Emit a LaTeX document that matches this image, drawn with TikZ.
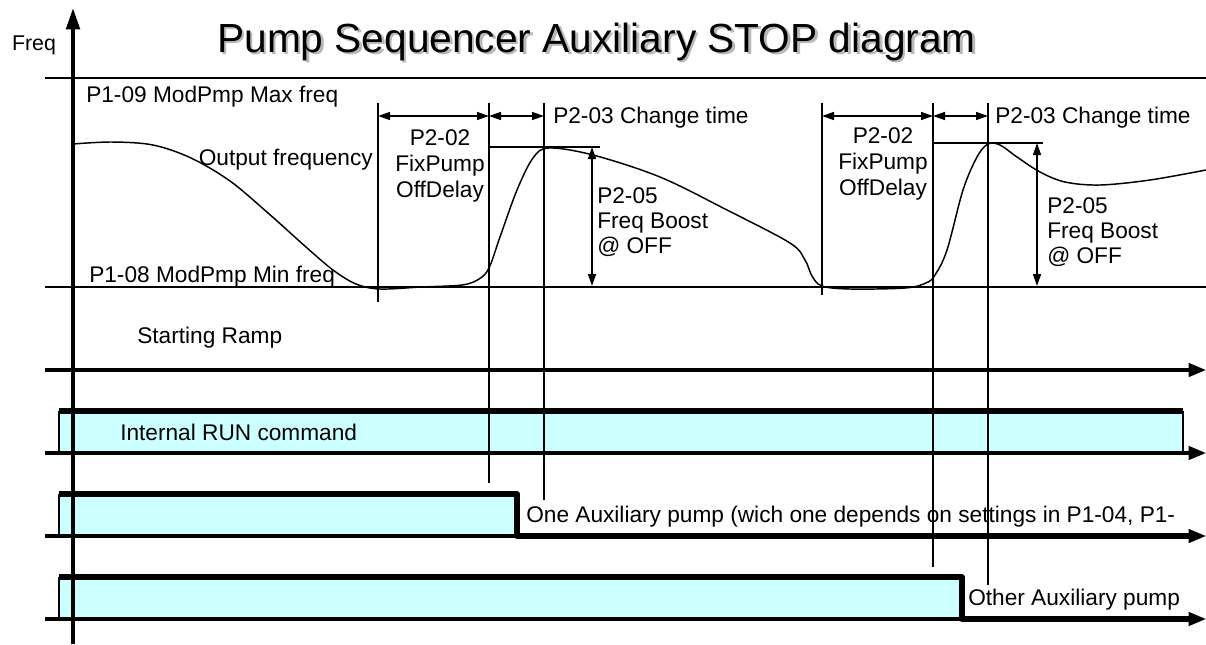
\documentclass[tikz,border=0pt]{standalone}
\usepackage{fontspec}
\setmainfont{Liberation Sans}
\usetikzlibrary{arrows.meta}
\definecolor{runfill}{HTML}{CCFFFF}
\begin{document}
\begin{tikzpicture}[x=0.75pt, y=-0.75pt,
    lbl/.style={inner sep=0pt, font=\fontsize{17}{19.5}\selectfont},
    titletext/.style={inner sep=0pt, font=\fontsize{30.5}{36}\selectfont},
    axisline/.style={line width=3pt, -{Triangle[length=16pt,width=10pt]}},
    level/.style={line width=1.1pt},
    tline/.style={line width=1.6pt},
    dim/.style={line width=1.1pt, {Triangle[length=9pt,width=6pt]}-{Triangle[length=9pt,width=6pt]}},
    rowaxis/.style={line width=2.5pt, -{Triangle[length=13pt,width=10pt]}},
    signal/.style={line width=4pt, line join=round},
    edge/.style={line width=0.8pt}
]
\useasboundingbox (0,0) rectangle (1206,644);

% -------- Titulo y eje --------
\node[titletext, text=gray!55, anchor=base west] at (219.5,54.5) {Pump Sequencer Auxiliary STOP diagram};
\node[titletext, anchor=base west] (title) at (217,52) {Pump Sequencer Auxiliary STOP diagram};
\node[inner sep=0pt, font=\fontsize{16}{19}\selectfont] (freq) at (34,45) {Freq};

% -------- Limites de frecuencia --------
\coordinate (maxw) at (45,78);
\coordinate (maxe) at (1206,78);
\coordinate (minw) at (45,287);
\coordinate (mine) at (1206,287);
\draw[level] (maxw) -- (maxe);
\draw[level] (minw) -- (mine);

\node[lbl, anchor=base west] (maxlbl) at (86,102) {P1-09 ModPmp Max freq};
\node[lbl, anchor=base west] (minlbl) at (89,282) {P1-08 ModPmp Min freq};
\node[lbl, anchor=base east] (outlbl) at (373,165) {Output frequency};

% Output frequency
\draw[level] plot[smooth, tension=0.55] coordinates {
  (73,144) (112,142) (153,145) (191,158) (230,181) (268,213) (306,247)
  (333,270) (356,284) (380,289) (421,287) (462,285) (479,279) (489,268)
  (500,237) (517,190) (533,158) (549,148) (593,155) (660,177) (727,210)
  (790,243) (805,260) (812,276) (822,286) (850,289) (905,288) (926,283)
  (935,275) (947,250) (963,190) (977,157) (988,144) (1000,145) (1017,157)
  (1040,172) (1065,182) (1100,185) (1150,180) (1206,170)};

% -------- Bandas de las senales --------
\coordinate (runA) at (59,453);
\coordinate (runB) at (59,411);
\coordinate (runC) at (1183,411);
\coordinate (runD) at (1183,453);
\fill[runfill] (runA) rectangle (runC);
\draw[edge] (runA) -- (runB);
\draw[edge] (runC) -- (runD);

\coordinate (oneA) at (59,536);
\coordinate (oneB) at (59,494);
\coordinate (oneC) at (517,494);
\coordinate (oneD) at (517,536);
\coordinate (oneE) at (1190,536);
\fill[runfill] (oneA) rectangle (oneC);
\draw[edge] (oneA) -- (oneB);

\coordinate (othA) at (59,619);
\coordinate (othB) at (59,577);
\coordinate (othC) at (962,577);
\coordinate (othD) at (962,619);
\coordinate (othE) at (1190,619);
\fill[runfill] (othA) rectangle (othC);
\draw[edge] (othA) -- (othB);

% lineas base con flecha
\foreach \n/\y in {ramp/370, run/453, one/536, oth/619} {
  \coordinate (\n w) at (45,\y);
  \coordinate (\n e) at (1206,\y);
  \draw[rowaxis] (\n w) -- (\n e);
}

\draw[signal] (runB) -- (runC);
\draw[signal] (oneB) -- (oneC) -- (oneD) -- (oneE);
\draw[signal] (othB) -- (othC) -- (othD) -- (othE);

\node[lbl, anchor=base west] (ramplbl) at (137,343) {Starting Ramp};
\node[lbl, anchor=base west] (runlbl) at (120,440) {Internal RUN command};
\node[lbl, anchor=base west] (onelbl) at (526,522) {One Auxiliary pump (wich one depends on settings in P1-04, P1-};
\node[lbl, anchor=base west] (othlbl) at (968,605) {Other Auxiliary pump};

% -------- Primer cambio --------
\coordinate (a1) at (378,103);
\coordinate (a1b) at (378,302);
\coordinate (a2) at (489,103);
\coordinate (a2b) at (489,483);
\coordinate (a3) at (544,103);
\coordinate (a3b) at (544,500);
\draw[tline] (a1) -- (a1b);
\draw[tline] (a2) -- (a2b);
\draw[tline] (a3) -- (a3b);

\coordinate (ad1) at (378,116);
\coordinate (ad2) at (489,116);
\coordinate (ad3) at (544,116);
\draw[dim] (ad1) -- (ad2);
\draw[dim] (ad2) -- (ad3);

\coordinate (ab1) at (489,147);
\coordinate (ab2) at (600,147);
\coordinate (ab3) at (592,147);
\coordinate (ab4) at (592,286);
\draw[tline] (ab1) -- (ab2);
\draw[dim] (ab3) -- (ab4);

\node[lbl, anchor=north, align=center] (adelay) at (440,129) {P2-02\\FixPump\\OffDelay};
\node[lbl, anchor=base west] (achange) at (553,123) {P2-03 Change time};
\node[lbl, anchor=north west, align=left, font=\fontsize{17}{18.75}\selectfont] (aboost) at (597,187) {P2-05\\Freq Boost\\@ OFF};

% -------- Segundo cambio --------
\coordinate (b1) at (822,103);
\coordinate (b1b) at (822,295);
\coordinate (b2) at (933,103);
\coordinate (b2b) at (933,567);
\coordinate (b3) at (988,103);
\coordinate (b3b) at (988,585);
\draw[tline] (b1) -- (b1b);
\draw[tline] (b2) -- (b2b);
\draw[tline] (b3) -- (b3b);

\coordinate (bd1) at (822,116);
\coordinate (bd2) at (933,116);
\coordinate (bd3) at (988,116);
\draw[dim] (bd1) -- (bd2);
\draw[dim] (bd2) -- (bd3);

\coordinate (bb1) at (933,143);
\coordinate (bb2) at (1043,143);
\coordinate (bb3) at (1037,143);
\coordinate (bb4) at (1037,286);
\draw[tline] (bb1) -- (bb2);
\draw[dim] (bb3) -- (bb4);

\node[lbl, anchor=north, align=center] (bdelay) at (883,127) {P2-02\\FixPump\\OffDelay};
\node[lbl, anchor=base west] (bchange) at (995,123) {P2-03 Change time};
\node[lbl, anchor=north west, align=left, font=\fontsize{17}{18.75}\selectfont] (bboost) at (1047,197) {P2-05\\Freq Boost\\@ OFF};

% eje de frecuencia
\coordinate (axbot) at (73,644);
\coordinate (axtop) at (73,8);
\draw[axisline] (axbot) -- (axtop);
\end{tikzpicture}
\end{document}
